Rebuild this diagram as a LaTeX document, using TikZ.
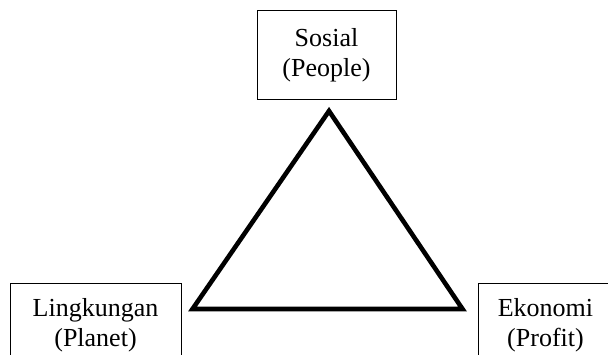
\documentclass[tikz,border=0pt]{standalone}
\usepackage{fontspec}
\setmainfont{Liberation Serif}
\begin{document}
\begin{tikzpicture}[x=0.5pt,y=0.5pt,
  labelbox/.style={draw=black,line width=0.5pt,align=center,inner sep=0pt,
    font=\fontsize{13pt}{15pt}\selectfont},
  tri/.style={draw=black,line width=2.3pt,line join=miter}]
\clip (0,0) rectangle (608,354);
\node[labelbox,minimum width=69.5pt,minimum height=44pt] (soc) at (326.5,299) {Sosial\\(People)};
\node[labelbox,minimum width=85.5pt,minimum height=42pt] (env) at (95.5,29) {Lingkungan\\(Planet)};
\node[labelbox,minimum width=67.5pt,minimum height=42pt] (eco) at (545.5,29) {Ekonomi\\(Profit)};
\coordinate (A) at (329,243);
\coordinate (B) at (192.5,45);
\coordinate (C) at (462.5,45);
\draw[tri] (A) -- (B) -- (C) -- cycle;
\end{tikzpicture}
\end{document}
